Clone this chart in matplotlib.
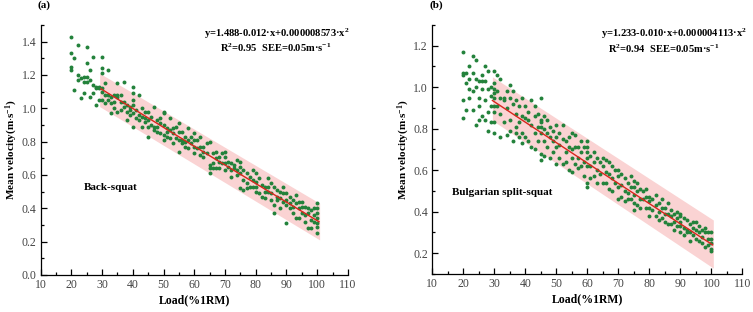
import matplotlib
matplotlib.use("Agg")
import matplotlib.pyplot as plt
from matplotlib.ticker import MultipleLocator, FuncFormatter

plt.rcParams['font.family'] = ['Liberation Serif', 'DejaVu Serif']
plt.rcParams['mathtext.fontset'] = 'custom'
plt.rcParams['mathtext.rm'] = 'Liberation Serif:bold'
plt.rcParams['mathtext.bf'] = 'Liberation Serif:bold'
plt.rcParams['mathtext.it'] = 'Liberation Serif:bold'

# Load (%1RM) for each group of points
loads = list(range(20, 101))

# Back-squat mean velocities per load (m/s)
bs_vel = [
    [1.43, 1.33, 1.25, 1.23], [1.30, 1.11], [1.38, 1.20, 1.17], [1.18, 1.06],
    [1.19, 1.16, 1.09], [1.37, 1.27, 1.19, 1.16], [1.23, 1.17, 1.07], [1.31, 1.14, 1.09],
    [1.13, 1.12, 1.02], [1.13, 1.12, 1.05], [1.31, 1.24, 1.21, 1.12, 1.10, 1.05],
    [1.15, 1.08, 1.03], [1.23, 1.08, 1.05], [1.07, 1.03, 0.97], [1.08, 1.04, 1.00],
    [1.15, 1.08, 1.07, 0.98], [1.08, 1.04, 0.99], [1.16, 1.04, 1.01], [1.02, 0.98, 0.93],
    [1.01, 0.99, 0.96], [1.13, 1.09, 1.05, 1.02, 0.97, 0.89], [0.99, 0.94],
    [1.08, 0.96, 0.93], [1.00, 0.95, 0.89], [0.98, 0.94, 0.92], [0.98, 0.93, 0.89, 0.83],
    [0.95, 0.90], [1.01, 0.89, 0.87], [0.93, 0.89, 0.86], [0.94, 0.91, 0.85],
    [0.98, 0.97, 0.90, 0.84, 0.81], [0.88, 0.86, 0.83], [0.94, 0.87, 0.82],
    [0.88, 0.85, 0.79], [0.89, 0.82], [0.91, 0.86, 0.81, 0.74], [0.86, 0.81, 0.79],
    [0.83, 0.80, 0.77], [0.88, 0.81, 0.76], [0.83, 0.79], [0.85, 0.81, 0.77, 0.73],
    [0.81, 0.76], [0.83, 0.77, 0.72], [0.77, 0.74, 0.71], [0.79, 0.73],
    [0.80, 0.66, 0.64, 0.61], [0.73, 0.67, 0.64], [0.74, 0.70, 0.64], [0.71, 0.68, 0.64],
    [0.73, 0.67], [0.74, 0.71, 0.67, 0.63], [0.68, 0.65], [0.67, 0.63, 0.59],
    [0.66, 0.64], [0.69, 0.63, 0.60], [0.68, 0.65, 0.61, 0.52], [0.63, 0.57, 0.51],
    [0.61, 0.55, 0.52], [0.59, 0.53], [0.63, 0.57, 0.53], [0.61, 0.56, 0.53, 0.50],
    [0.58, 0.49], [0.54, 0.47], [0.53, 0.50, 0.46], [0.58, 0.53, 0.50],
    [0.55, 0.49, 0.45], [0.53, 0.42, 0.37], [0.51, 0.47, 0.45], [0.50, 0.46, 0.40],
    [0.53, 0.49, 0.44], [0.49, 0.45, 0.42, 0.31], [0.47, 0.43, 0.40], [0.45, 0.41, 0.37],
    [0.48, 0.43, 0.34], [0.44, 0.40, 0.34], [0.44, 0.41, 0.37], [0.41, 0.36, 0.32],
    [0.40, 0.37, 0.28], [0.39, 0.33, 0.28], [0.40, 0.36, 0.32],
    [0.43, 0.40, 0.37, 0.34, 0.31, 0.29, 0.25],
]

# Bulgarian split-squat mean velocities per load (m/s)
bss_vel = [
    [1.17, 1.07, 1.06, 0.94, 0.85], [1.07, 1.02, 0.89], [1.10, 1.04, 0.99, 0.95],
    [1.15, 1.07, 0.98, 0.89], [1.13, 1.04, 1.00, 0.82], [1.03, 0.95, 0.91, 0.84],
    [1.06, 1.03, 0.99, 0.86], [1.10, 1.03, 0.94, 0.84], [1.08, 0.99, 0.88, 0.79],
    [1.00, 0.96, 0.91, 0.83], [1.08, 1.02, 0.99, 0.97, 0.95, 0.91, 0.88, 0.83, 0.78],
    [1.06, 0.98, 0.91], [1.04, 0.95, 0.87, 0.76], [0.95, 0.94, 0.83], [0.98, 0.90, 0.77],
    [1.01, 0.95, 0.84, 0.79], [0.98, 0.92, 0.74], [0.94, 0.87, 0.81, 0.78],
    [0.91, 0.83, 0.76], [0.95, 0.86, 0.78, 0.73], [0.91, 0.85, 0.76], [0.88, 0.84, 0.74],
    [0.94, 0.82, 0.71], [0.91, 0.86, 0.78, 0.70], [0.87, 0.81, 0.74],
    [0.95, 0.84, 0.83, 0.81, 0.78, 0.68, 0.65], [0.86, 0.80, 0.74, 0.67],
    [0.84, 0.78, 0.71], [0.81, 0.76, 0.66], [0.79, 0.74, 0.69], [0.82, 0.76, 0.71, 0.63],
    [0.78, 0.72, 0.66], [0.82, 0.75, 0.63], [0.74, 0.69, 0.64], [0.76, 0.71, 0.60],
    [0.78, 0.70, 0.66, 0.59], [0.77, 0.71, 0.63], [0.71, 0.66, 0.61], [0.74, 0.69, 0.62],
    [0.71, 0.64, 0.57], [0.74, 0.71, 0.69, 0.66, 0.62, 0.54, 0.52], [0.67, 0.62, 0.56],
    [0.69, 0.64, 0.57], [0.66, 0.60, 0.54], [0.64, 0.58], [0.66, 0.62, 0.54],
    [0.65, 0.59, 0.54], [0.64, 0.58, 0.51], [0.62, 0.56, 0.50], [0.60, 0.54],
    [0.60, 0.57, 0.52, 0.46], [0.58, 0.53, 0.47], [0.56, 0.50, 0.45], [0.54, 0.49, 0.46],
    [0.57, 0.52, 0.46], [0.55, 0.52, 0.48, 0.44, 0.41], [0.54, 0.50, 0.43],
    [0.51, 0.46, 0.42], [0.50, 0.46], [0.51, 0.47, 0.42], [0.47, 0.45, 0.42, 0.38],
    [0.46, 0.41], [0.48, 0.43, 0.38], [0.44, 0.40, 0.36], [0.46, 0.42, 0.37],
    [0.42, 0.39, 0.35], [0.44, 0.39, 0.34], [0.41, 0.38, 0.34], [0.39, 0.35, 0.31],
    [0.40, 0.37, 0.33], [0.39, 0.38, 0.35, 0.33, 0.30], [0.37, 0.32, 0.29],
    [0.36, 0.31, 0.30], [0.34, 0.30, 0.26], [0.35, 0.32, 0.29], [0.35, 0.31, 0.27],
    [0.33, 0.30, 0.26], [0.31, 0.28, 0.25], [0.32, 0.30, 0.23], [0.30, 0.27, 0.24],
    [0.30, 0.27, 0.25, 0.22, 0.21],
]

# Fitted curve and prediction band
bs_fit_x = [29.6, 65, 100.6]
bs_fit_y = [1.117, 0.715, 0.319]
bs_band_x = [29.2, 100.8]
bs_band_lo = [1.01, 0.21]
bs_band_hi = [1.21, 0.43]

bss_fit_x = [29.4, 65, 100.4]
bss_fit_y = [0.936, 0.585, 0.240]
bss_band_x = [29.4, 100.6]
bss_band_lo = [0.84, 0.128]
bss_band_hi = [1.05, 0.36]

GREEN = '#23823b'
PINK = '#fad3d3'
RED = '#d8261c'


def flatten(vels):
    xs, ys = [], []
    for ld, vs in zip(loads, vels):
        xs += [ld] * len(vs)
        ys += vs
    return xs, ys


def draw_panel(ax, vels, fit_x, fit_y, band_x, band_lo, band_hi, ylim, ymaj, label,
               eq1, eq2, eq_pos, lab_pos, panel):
    ax.fill_between(band_x, band_lo, band_hi, color=PINK, lw=0, zorder=1)
    xs, ys = flatten(vels)
    ax.scatter(xs, ys, s=8, c=GREEN, lw=0, zorder=2)
    ax.plot(fit_x, fit_y, color=RED, lw=1.0, zorder=3)

    ax.set_xlim(10, 110)
    ax.set_ylim(*ylim)
    ax.xaxis.set_major_locator(MultipleLocator(10))
    ax.xaxis.set_minor_locator(MultipleLocator(5))
    ax.yaxis.set_major_locator(MultipleLocator(ymaj))
    ax.yaxis.set_minor_locator(MultipleLocator(ymaj / 2))
    ax.yaxis.set_major_formatter(FuncFormatter(lambda v, p: f"{v:.1f}"))
    ax.spines['top'].set_visible(False)
    ax.spines['right'].set_visible(False)
    for s in ('left', 'bottom'):
        ax.spines[s].set_linewidth(0.9)
    ax.tick_params(which='major', direction='in', length=4, width=0.9,
                   labelsize=8.5, labelcolor='#444444', pad=3)
    ax.tick_params(which='minor', direction='in', length=2.5, width=0.9)

    ax.set_xlabel('Load(%1RM)', fontsize=8.5, fontweight='bold', labelpad=2)
    ax.set_ylabel(r'Mean velocity(m$\cdot$s$^{-1}$)', fontsize=8,
                  fontweight='bold', labelpad=1)

    ax.text(eq_pos[0], eq_pos[1], eq1, fontsize=7.6, fontweight='bold', ha='center', va='center')
    ax.text(eq_pos[2], eq_pos[3], eq2, fontsize=7.6, fontweight='bold', ha='center', va='center')
    ax.text(lab_pos[0], lab_pos[1], label, fontsize=8, fontweight='bold', ha='left', va='center')
    ax.text(-0.01, 1.08, panel, transform=ax.transAxes, fontsize=8, fontweight='bold',
            ha='left', va='center')


fig = plt.figure(figsize=(7.53, 3.12), dpi=100)
ax1 = fig.add_axes([0.054, 0.119, 0.408, 0.801])
ax2 = fig.add_axes([0.574, 0.122, 0.412, 0.798])

draw_panel(ax1, bs_vel, bs_fit_x, bs_fit_y, bs_band_x, bs_band_lo, bs_band_hi,
           (0, 1.5), 0.2, 'Back-squat',
           'y=1.488-0.012·x+0.000008573·x$^{2}$',
           'R$^{2}$=0.95  SEE=0.05m·s$^{-1}$',
           (87, 1.449, 86.5, 1.36), (24.2, 0.527), '(a)')
draw_panel(ax2, bss_vel, bss_fit_x, bss_fit_y, bss_band_x, bss_band_lo, bss_band_hi,
           (0.1, 1.3), 0.2, 'Bulgarian split-squat',
           'y=1.233-0.010·x+0.000004113·x$^{2}$',
           'R$^{2}$=0.94  SEE=0.05m·s$^{-1}$',
           (88, 1.258, 84.5, 1.186), (16.5, 0.493), '(b)')

fig.savefig('out.png', dpi=100)
